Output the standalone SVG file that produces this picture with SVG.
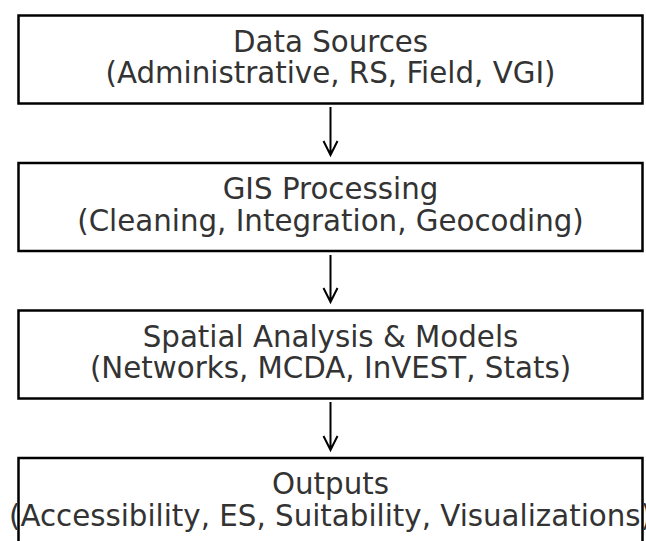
<svg xmlns="http://www.w3.org/2000/svg" width="646" height="541" viewBox="0 0 646 541">
<style>
.box{fill:#fff;stroke:#000;stroke-width:2.5}
.t{font-family:"DejaVu Sans",sans-serif;font-size:29.3px;fill:#333;text-anchor:middle}
.c{stroke:#000;stroke-width:2;fill:none}
</style>
<rect width="646" height="541" fill="#fff"/>
<g id="n1"><rect class="box" x="18.5" y="15.5" width="624" height="88"/>
<text class="t" x="330.5" y="51.7">Data Sources</text><text class="t" x="330.5" y="83.4">(Administrative, RS, Field, VGI)</text></g>
<g id="n2"><rect class="box" x="18.5" y="163" width="624" height="88"/>
<text class="t" x="330.5" y="199.2">GIS Processing</text><text class="t" x="330.5" y="230.9">(Cleaning, Integration, Geocoding)</text></g>
<g id="n3"><rect class="box" x="18.5" y="310.5" width="624" height="88"/>
<text class="t" x="330.5" y="346.7">Spatial Analysis &amp; Models</text><text class="t" x="330.5" y="378.4">(Networks, MCDA, InVEST, Stats)</text></g>
<g id="n4"><rect class="box" x="18.5" y="458" width="624" height="88"/>
<text class="t" x="330.5" y="494.2">Outputs</text><text class="t" x="330.5" y="525.9">(Accessibility, ES, Suitability, Visualizations)</text></g>
<g id="connectors">
<path class="c" d="M330.5 107V155M323.5 141L330.5 155L337.5 141"/>
<path class="c" d="M330.5 255V302M323.5 288L330.5 302L337.5 288"/>
<path class="c" d="M330.5 402V450M323.5 436L330.5 450L337.5 436"/>
</g>
</svg>
